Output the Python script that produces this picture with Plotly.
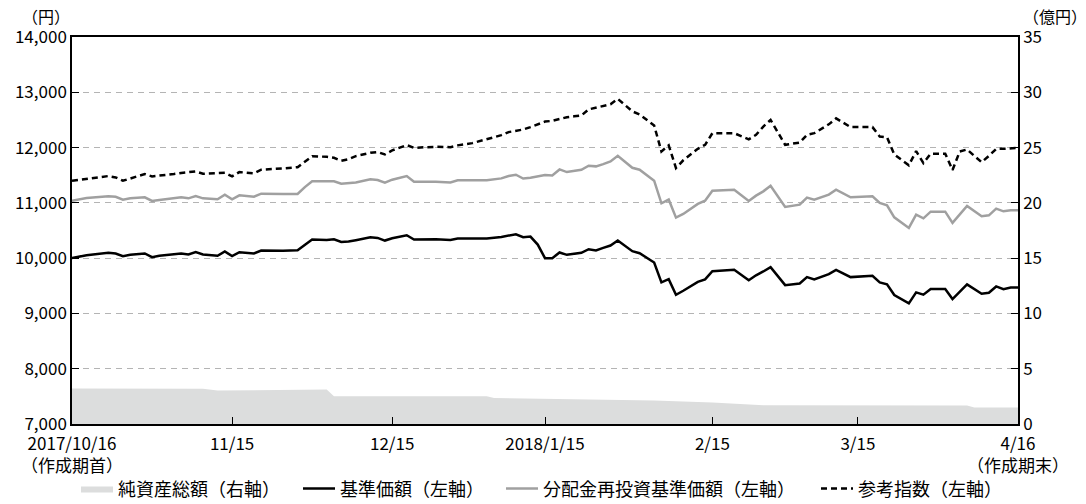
import pandas as pd
import plotly.graph_objects as go

# weekday index (0 = 2017/10/16, 130 = 2018/4/16)
day_index = [0, 2, 5, 6, 7, 8, 10, 11, 12, 14, 15, 16, 17, 18, 20, 21, 22, 23, 24, 25, 26, 28, 29, 31, 32, 33,
             35, 36, 37, 38, 39, 41, 42, 43, 44, 46, 47, 50, 52, 53, 55, 57, 59, 60, 61, 62, 63, 64, 65, 66,
             67, 68, 69, 70, 71, 72, 73, 74, 75, 77, 78, 80, 81, 82, 83, 84, 86, 87, 88, 91, 93, 94, 95, 96,
             98, 100, 101, 102, 104, 105, 107, 110, 111, 112, 113, 115, 116, 117, 118, 120, 121, 122, 123,
             125, 126, 127, 128, 129, 130]

nav = [10000, 10054, 10096, 10084, 10036, 10060, 10084, 10018, 10042, 10072, 10084, 10066, 10108, 10066,
       10042, 10120, 10036, 10108, 10096, 10084, 10138, 10126, 10132, 10144, 10240, 10336, 10330, 10342,
       10294, 10300, 10324, 10378, 10366, 10318, 10360, 10414, 10336, 10342, 10330, 10354, 10354, 10354,
       10384, 10414, 10432, 10380, 10390, 10246, 10000, 10000, 10102, 10060, 10072, 10096, 10162, 10140,
       10185, 10228, 10318, 10126, 10090, 9921, 9561, 9620, 9338, 9410, 9570, 9615, 9765, 9789, 9600,
       9690, 9759, 9837, 9512, 9542, 9657, 9615, 9710, 9789, 9657, 9681, 9561, 9525, 9332, 9182, 9380,
       9340, 9440, 9440, 9260, 9392, 9525, 9356, 9374, 9488, 9440, 9470, 9470]

nav_reinvested = [11040, 11088, 11118, 11110, 11058, 11082, 11100, 11034, 11052, 11082, 11100, 11082, 11124,
                  11082, 11064, 11148, 11064, 11136, 11124, 11112, 11166, 11154, 11160, 11160, 11285, 11389,
                  11383, 11389, 11346, 11352, 11370, 11425, 11413, 11364, 11419, 11485, 11383, 11383, 11370,
                  11407, 11407, 11407, 11443, 11485, 11509, 11440, 11455, 11485, 11503, 11497, 11605, 11557,
                  11581, 11599, 11671, 11660, 11700, 11749, 11852, 11635, 11600, 11400, 10992, 11060, 10733,
                  10800, 10980, 11040, 11220, 11238, 11034, 11130, 11208, 11310, 10926, 10968, 11094, 11058,
                  11150, 11238, 11100, 11118, 10998, 10956, 10739, 10547, 10787, 10720, 10841, 10841, 10637,
                  10787, 10944, 10757, 10775, 10895, 10847, 10865, 10865]

ref_index = [11400, 11430, 11485, 11460, 11400, 11440, 11521, 11479, 11490, 11521, 11540, 11551, 11569,
             11527, 11533, 11545, 11479, 11557, 11545, 11533, 11600, 11611, 11623, 11645, 11740, 11843,
             11833, 11815, 11761, 11790, 11846, 11906, 11918, 11876, 11948, 12044, 11996, 12014, 12008,
             12040, 12080, 12150, 12224, 12280, 12300, 12327, 12370, 12420, 12470, 12483, 12515, 12549,
             12565, 12580, 12690, 12717, 12750, 12784, 12880, 12655, 12600, 12400, 11930, 12040, 11629,
             11770, 11978, 12050, 12260, 12260, 12150, 12230, 12380, 12501, 12050, 12090, 12230, 12260,
             12420, 12528, 12370, 12370, 12200, 12185, 11875, 11680, 11935, 11720, 11890, 11890, 11595,
             11930, 11965, 11735, 11850, 11975, 11978, 11985, 11995]

# net assets (億円)
na_index = [0, 18, 20, 34, 35, 36, 57, 58, 80, 88, 95, 123, 124, 130]
net_assets = [3.20, 3.19, 3.03, 3.10, 3.12, 2.50, 2.50, 2.35, 2.12, 1.95, 1.70, 1.68, 1.50, 1.50]

tick_dates = ["2017-10-16", "2017-11-15", "2017-12-15", "2018-01-15", "2018-02-15", "2018-03-15", "2018-04-16"]
tick_labels = ["2017/10/16<br>（作成期首）", "11/15", "12/15", "2018/1/15", "2/15", "3/15", "4/16<br>（作成期末）"]
left_ticks = [7000, 8000, 9000, 10000, 11000, 12000, 13000, 14000]
left_labels = ["7,000", "8,000", "9,000", "10,000", "11,000", "12,000", "13,000", "14,000"]
right_ticks = [0, 5, 10, 15, 20, 25, 30, 35]

weekdays = pd.bdate_range("2017-10-16", "2018-04-16")
dates = weekdays[day_index]
na_dates = weekdays[na_index]

FONT = "Noto Sans CJK JP, Noto Sans, sans-serif"

fig = go.Figure()
fig.add_trace(go.Scatter(x=na_dates, y=net_assets, name="純資産総額（右軸）", yaxis="y2",
                         mode="lines", line=dict(width=0, color="#dcdddd"),
                         fill="tozeroy", fillcolor="#dcdddd", legend="legend"))
fig.add_trace(go.Scatter(x=dates, y=nav, name="基準価額（左軸）", mode="lines",
                         line=dict(color="black", width=2.5), legend="legend2"))
fig.add_trace(go.Scatter(x=dates, y=nav_reinvested, name="分配金再投資基準価額（左軸）", mode="lines",
                         line=dict(color="#a0a0a0", width=2.5), legend="legend3"))
fig.add_trace(go.Scatter(x=dates, y=ref_index, name="参考指数（左軸）", mode="lines",
                         line=dict(color="black", width=2.5, dash="6px,4px"), legend="legend4"))


def leg(xpx):
    return dict(orientation="h", xref="container", yref="container", x=xpx / 1086, y=0.030,
                xanchor="left", yanchor="middle", font=dict(size=18), itemwidth=32,
                bgcolor="rgba(0,0,0,0)")


fig.update_layout(
    width=1086, height=504,
    margin=dict(l=72, r=68, t=37, b=80, autoexpand=False),
    paper_bgcolor="white", plot_bgcolor="white",
    font=dict(family=FONT, size=17, color="black"),
    showlegend=True,
    legend=leg(121 - 45), legend2=leg(343 - 45), legend3=leg(546 - 45), legend4=leg(861 - 45),
    xaxis=dict(type="date", range=["2017-10-16", "2018-04-16"],
               rangebreaks=[dict(bounds=["sat", "mon"])],
               tickvals=tick_dates, ticktext=tick_labels, tickangle=0,
               ticks="inside", ticklen=7, tickcolor="black", tickwidth=1.2,
               ticklabelstandoff=4,
               showline=True, linecolor="black", linewidth=1.5, mirror=True,
               showgrid=False, zeroline=False, tickfont=dict(size=17)),
    yaxis=dict(range=[7000, 14000], tickvals=left_ticks, ticktext=left_labels,
               ticks="inside", ticklen=7, tickcolor="black", tickwidth=1.2,
               showline=True, linecolor="black", linewidth=1.5,
               showgrid=True, gridcolor="#b4b4b4", griddash="6px,5px", gridwidth=1,
               zeroline=False, tickfont=dict(size=17)),
    yaxis2=dict(range=[0, 35], tickvals=right_ticks, overlaying="y", side="right",
                ticks="inside", ticklen=7, tickcolor="black", tickwidth=1.2,
                showline=True, linecolor="black", linewidth=1.5,
                showgrid=False, zeroline=False, tickfont=dict(size=17)),
    annotations=[
        dict(text="（円）", xref="paper", yref="paper", x=-0.0275, y=1.0, yshift=21,
             showarrow=False, xanchor="center", yanchor="middle", font=dict(size=16)),
        dict(text="（億円）", xref="paper", yref="paper", x=1.039, y=1.0, yshift=21,
             showarrow=False, xanchor="center", yanchor="middle", font=dict(size=16)),
    ],
)

fig.write_html("out.html", config={"displayModeBar": False},
               post_script="document.body.style.margin='0px';")
